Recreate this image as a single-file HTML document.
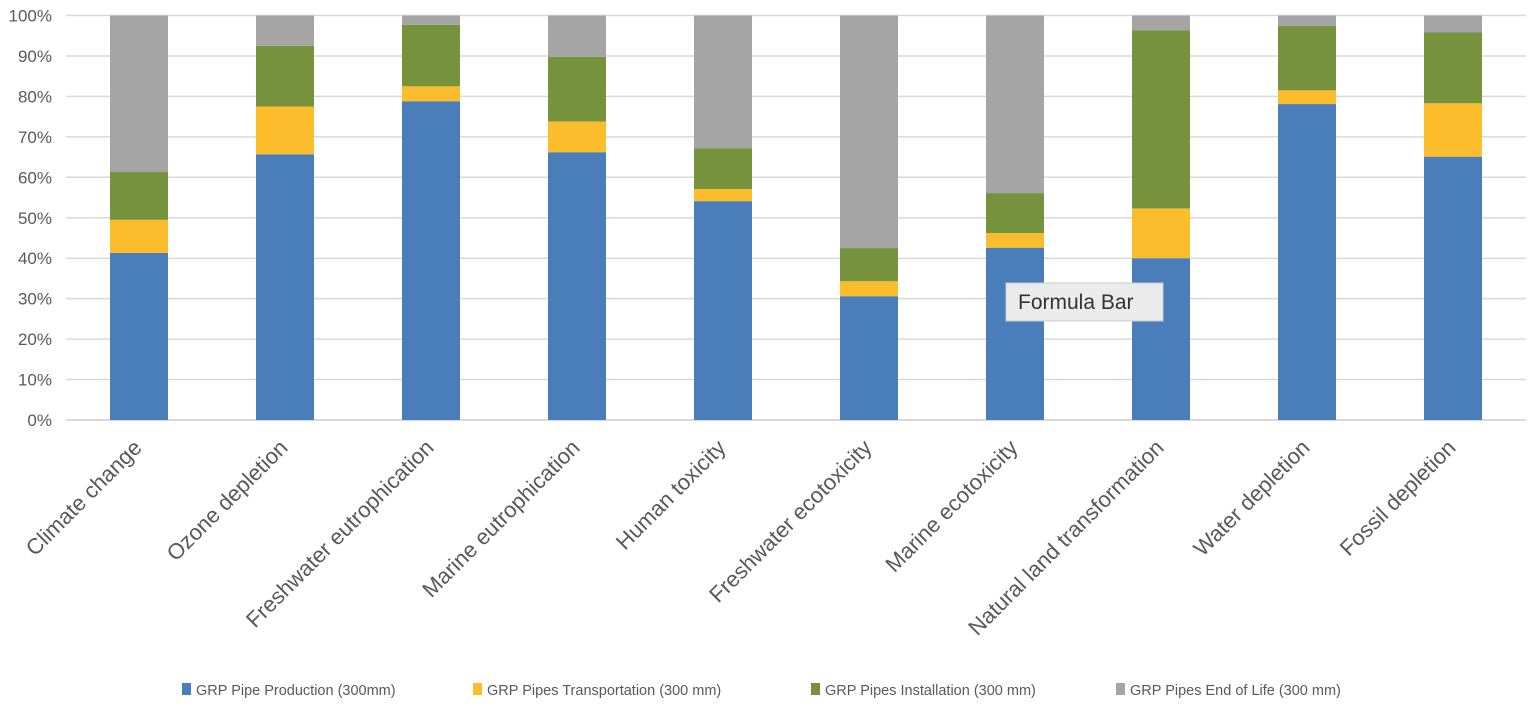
<!DOCTYPE html>
<html><head><meta charset="utf-8"><style>
body{margin:0;background:#fff;font-family:"Liberation Sans",sans-serif}
</style></head><body>
<svg id="chart" width="1535" height="707" xmlns="http://www.w3.org/2000/svg"></svg>
<script>
const categories=["Climate change","Ozone depletion","Freshwater eutrophication","Marine eutrophication","Human toxicity","Freshwater ecotoxicity","Marine ecotoxicity","Natural land transformation","Water depletion","Fossil depletion"];
const production=[41.3,65.7,78.8,66.2,54.1,30.6,42.6,40.0,78.1,65.1];
const transportation=[8.2,11.8,3.7,7.6,3.0,3.7,3.6,12.3,3.4,13.2];
const installation=[11.8,15.0,15.2,16.0,10.1,8.2,9.9,44.0,15.9,17.5];
const endOfLife=[38.7,7.5,2.3,10.2,32.8,57.5,43.9,3.7,2.6,4.2];
const seriesNames=["GRP Pipe Production (300mm)","GRP Pipes Transportation (300 mm)","GRP Pipes Installation (300 mm)","GRP Pipes End of Life (300 mm)"];
const seriesColors=["#4a7ebb","#fbbd2c","#76923c","#a5a5a5"];
const yTicks=[0,10,20,30,40,50,60,70,80,90,100];
const NS="http://www.w3.org/2000/svg";
const svg=document.getElementById('chart');
const x0=66,x1=1526,y0=420,y1=15.5;
const band=(x1-x0)/categories.length, bw=58;
const y=v=>y0-(v/100)*(y0-y1);
const xc=i=>x0+band*(i+0.5);
function mk(t,a){const e=document.createElementNS(NS,t);for(const k in a)e.setAttribute(k,a[k]);svg.appendChild(e);return e;}
yTicks.forEach(t=>{
  const l=mk('line',{x1:x0,x2:x1,y1:y(t),y2:y(t),stroke:'#d9d9d9','stroke-width':t===0?2:1.5});
  
  
  const tx=mk('text',{x:52,y:y(t)+6,'text-anchor':'end','font-size':17,fill:'#595959'});
  tx.textContent=t+'%';
  
  
});
const series=[production,transportation,installation,endOfLife];
categories.forEach((c,i)=>{
  let acc=0;
  series.forEach((s,si)=>{
    const v=s[i];
    const r=mk('rect',{x:xc(i)-bw/2,y:y(acc+v),width:bw,height:y(acc)-y(acc+v),fill:seriesColors[si]});
    
    
    acc+=v;
  });
  const t=mk('text',{x:xc(i)+4,y:449,'text-anchor':'end','font-size':22,fill:'#595959',transform:`rotate(-45 ${xc(i)+4} 449)`});
  t.textContent=c;
  
  
});
const lx=[182,473,811,1116];
seriesNames.forEach((n,i)=>{
  const r=mk('rect',{x:lx[i],y:683,width:9,height:12,fill:seriesColors[i]});
  
  
  const t=mk('text',{x:lx[i]+14,y:695,'font-size':14.5,fill:'#595959'});
  t.textContent=n;
  
  
});
const tip=mk('rect',{x:1006,y:283,width:157,height:38,fill:'#ebebeb',stroke:'#c8c8c8','stroke-width':1});


const tt=mk('text',{x:1018,y:309,'font-size':21,fill:'#333'});
tt.textContent='Formula Bar';


</script>
</body></html>
